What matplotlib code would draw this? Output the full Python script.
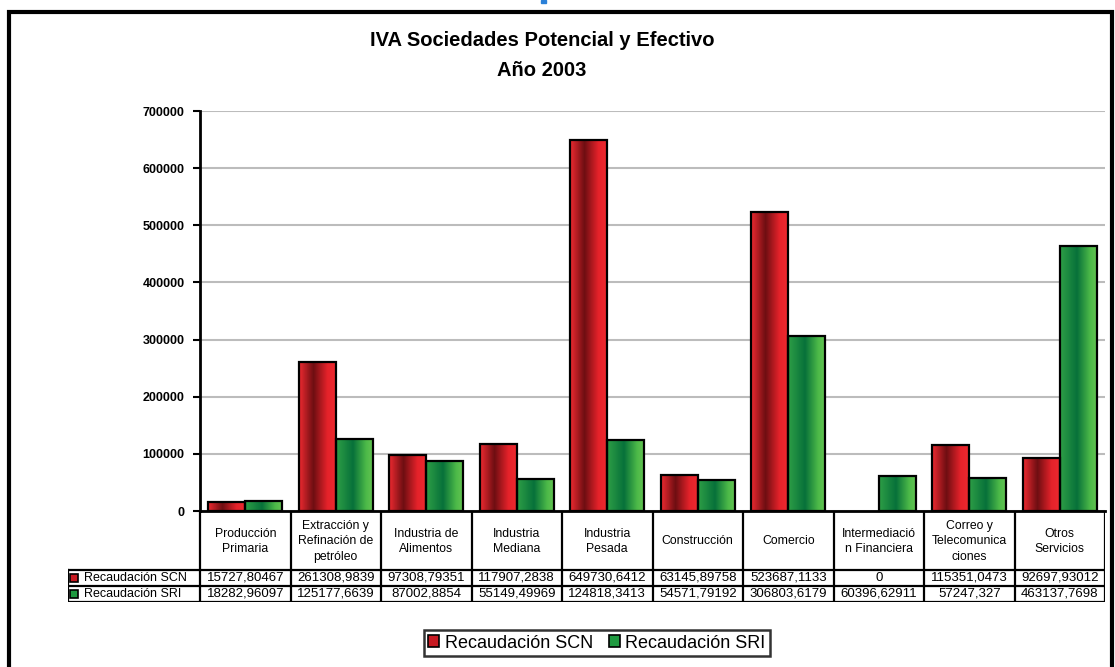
import numpy as np
import matplotlib.pyplot as plt
from matplotlib.patches import Rectangle
from matplotlib.colors import LinearSegmentedColormap

plt.rcParams['font.family'] = ['Liberation Sans', 'DejaVu Sans']

# data
sectores = ['Producción\nPrimaria', 'Extracción y\nRefinación de\npetróleo',
            'Industria de\nAlimentos', 'Industria\nMediana', 'Industria\nPesada',
            'Construcción', 'Comercio', 'Intermediació\nn Financiera',
            'Correo y\nTelecomunica\nciones', 'Otros\nServicios']
scn = [15727.80467, 261308.9839, 97308.79351, 117907.2838, 649730.6412,
       63145.89758, 523687.1133, 0, 115351.0473, 92697.93012]
sri = [18282.96097, 125177.6639, 87002.8854, 55149.49969, 124818.3413,
       54571.79192, 306803.6179, 60396.62911, 57247.327, 463137.7698]
scn_txt = ['15727,80467', '261308,9839', '97308,79351', '117907,2838',
           '649730,6412', '63145,89758', '523687,1133', '0', '115351,0473',
           '92697,93012']
sri_txt = ['18282,96097', '125177,6639', '87002,8854', '55149,49969',
           '124818,3413', '54571,79192', '306803,6179', '60396,62911',
           '57247,327', '463137,7698']
series = ['Recaudación SCN', 'Recaudación SRI']
yticks = np.arange(0, 700001, 100000)

W, H = 1115, 667
RED, GREEN = '#c81a22', '#1f9a40'

red_cm = LinearSegmentedColormap.from_list(
    'r', [(0, '#ec2a30'), (0.38, '#6e0e12'), (0.75, '#e4222a'), (1, '#ee2a30')])
green_cm = LinearSegmentedColormap.from_list(
    'g', [(0, '#2e9e46'), (0.45, '#07713a'), (0.8, '#4cb948'), (1, '#66c553')])

fig = plt.figure(figsize=(W / 100, H / 100), dpi=100)


def px(x0, y0, x1, y1):
    return [x0 / W, 1 - y1 / H, (x1 - x0) / W, (y1 - y0) / H]


# outer frame
fig.add_artist(Rectangle((9 / W, -0.1), 1103 / W, 1.1 - 12 / H, fill=False,
                         lw=3, ec='black', transform=fig.transFigure))
fig.add_artist(Rectangle((541 / W, 1 - 3 / H), 5 / W, 3 / H, color='#2a80d8',
                         transform=fig.transFigure))

fig.text(542 / W, 1 - 40 / H, 'IVA Sociedades Potencial y Efectivo',
         ha='center', va='center', fontsize=14.5, fontweight='bold')
fig.text(542 / W, 1 - 70 / H, 'Año 2003', ha='center', va='center',
         fontsize=14.5, fontweight='bold')

########################################################################
# bars
########################################################################
ax_l, ax_r, ax_t, ax_b = 200, 1105, 111, 511
ax = fig.add_axes(px(ax_l, ax_t, ax_r, ax_b))
x = np.arange(len(sectores))
bw = 0.41
grad = np.linspace(0, 1, 64).reshape(1, -1)
for vals, off, cm in [(scn, -0.205, red_cm), (sri, 0.205, green_cm)]:
    bars = ax.bar(x + off, vals, bw, facecolor='none', edgecolor='black',
                  lw=1.6, zorder=3)
    for b, v in zip(bars, vals):
        if v <= 0:
            b.set_visible(False)
            continue
        im = ax.imshow(grad, cmap=cm, aspect='auto', zorder=2,
                       interpolation='bilinear',
                       extent=[b.get_x(), b.get_x() + bw, 0, v])
        im.set_clip_path(b)

ax.set_xlim(-0.5, len(sectores) - 0.5)
ax.set_ylim(0, 700000)
ax.set_yticks(yticks)
ax.set_yticklabels([str(v) for v in yticks], fontsize=9, fontweight='bold')
ax.set_xticks([])
ax.tick_params(axis='y', length=5, width=1.5, pad=6)
ax.grid(axis='y', color='#bcbcbc', lw=1.5, zorder=0)
ax.set_axisbelow(True)
for s in ['top', 'right']:
    ax.spines[s].set_visible(False)
ax.spines['left'].set_linewidth(2)
ax.spines['bottom'].set_linewidth(2)

########################################################################
# data table
########################################################################
tab_l, tab_b = 68, 602
cat_px = (ax_r - ax_l) / len(sectores)
tx0 = -0.5 - (ax_l - tab_l) / cat_px
tax = fig.add_axes(px(tab_l, ax_b, ax_r, tab_b))
tax.set_xlim(tx0, len(sectores) - 0.5)
tax.set_ylim(tab_b - ax_b, 0)
tax.axis('off')
r1, r2, r3 = 59, 75, 91
lk = dict(color='black', lw=1.6, solid_capstyle='projecting')
for b in np.arange(len(sectores) + 1) - 0.5:
    tax.plot([b, b], [0, r3], **lk)
tax.plot([tx0, tx0], [r1, r3], **lk)
for yy in (r1, r2, r3):
    tax.plot([tx0, len(sectores) - 0.5], [yy, yy], **lk)
for i, name in enumerate(sectores):
    tax.text(i, r1 / 2 + 1, name, ha='center', va='center', fontsize=8.8,
             linespacing=1.35)
    tax.text(i, (r1 + r2) / 2, scn_txt[i], ha='center', va='center',
             fontsize=9.5)
    tax.text(i, (r2 + r3) / 2, sri_txt[i], ha='center', va='center',
             fontsize=9.5)
for yy, lab, c in [((r1 + r2) / 2, series[0], RED),
                   ((r2 + r3) / 2, series[1], GREEN)]:
    tax.plot(tx0 + 6 / cat_px, yy, marker='s', ms=6, mfc=c, mec='black',
             mew=1.2)
    tax.text(tx0 + 16 / cat_px, yy, lab, ha='left', va='center',
             fontsize=9)

########################################################################
# legend
########################################################################
handles = [Rectangle((0, 0), 1, 1, fc=RED, ec='black', lw=1.2),
           Rectangle((0, 0), 1, 1, fc=GREEN, ec='black', lw=1.2)]
leg = fig.legend(handles, series, loc='center', ncol=2,
                 bbox_to_anchor=(597 / W, 1 - 643 / H), fontsize=13,
                 frameon=True, fancybox=False, edgecolor='black',
                 handlelength=0.6, handleheight=0.6, handletextpad=0.3,
                 columnspacing=0.9, borderpad=0.25, borderaxespad=0)
leg.get_frame().set_linewidth(1.8)

fig.savefig('out.png', dpi=100)
